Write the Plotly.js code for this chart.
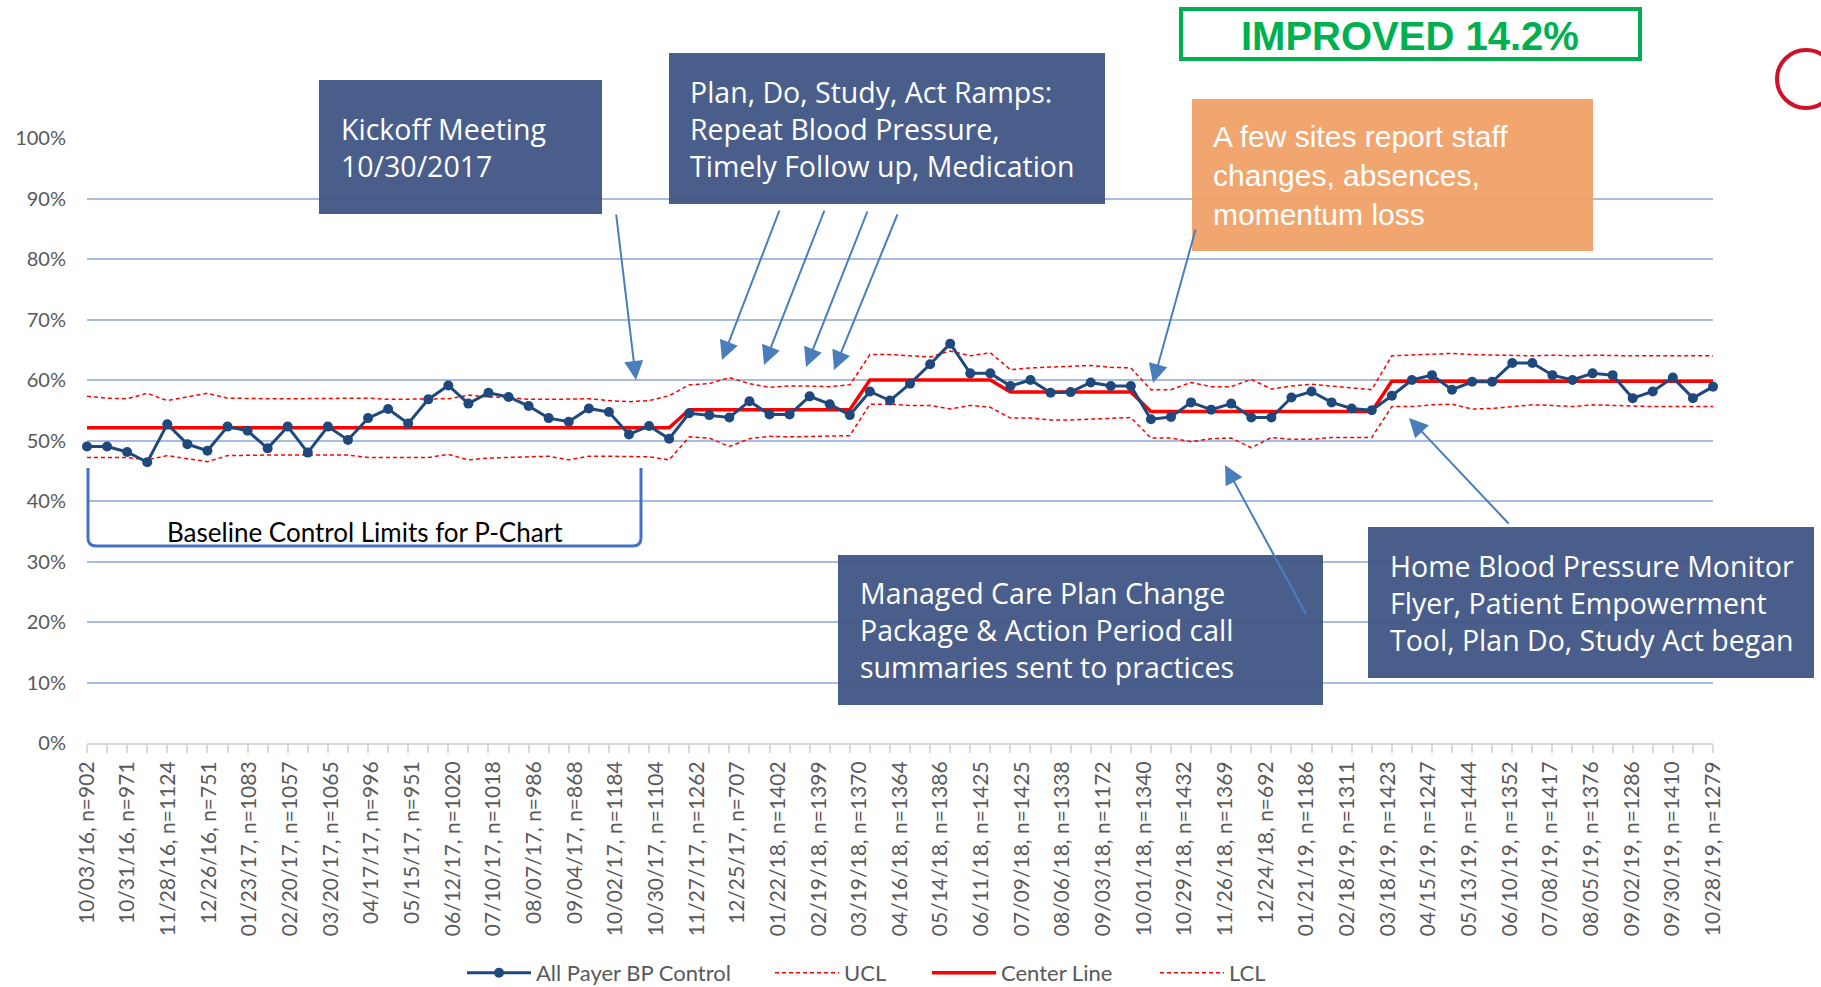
<!DOCTYPE html>
<html><head><meta charset="utf-8">
<script src="https://cdn.plot.ly/plotly-3.0.1.min.js"></script>
<style>html,body{margin:0;padding:0;background:#fff;}#chart{width:1821px;height:987px;}</style>
</head><body><div id="chart"></div>
<script>
// ---- data (percent) ----
const bpControl = [49.0,49.0,48.1,46.4,52.7,49.4,48.3,52.3,51.6,48.7,52.3,48.0,52.3,50.1,53.7,55.2,52.8,56.8,59.1,56.1,
57.9,57.2,55.7,53.7,53.1,55.3,54.7,51.0,52.4,50.3,54.5,54.2,53.8,56.5,54.3,54.3,57.3,56.0,54.2,58.1,
56.6,59.4,62.6,66.0,61.1,61.1,59.0,60.0,57.9,58.0,59.6,59.0,59.0,53.5,53.9,56.3,55.1,56.1,53.8,53.8,
57.1,58.1,56.3,55.3,55.0,57.4,60.0,60.8,58.4,59.7,59.7,62.8,62.8,60.8,60.0,61.1,60.8,57.0,58.1,60.4,
57.0,58.9];
const ucl = [57.3,57.0,56.9,57.8,56.6,57.2,57.8,57.0,56.9,56.9,56.9,56.9,56.9,56.9,57.0,56.8,56.8,56.9,56.9,57.5,
57.2,57.1,56.8,56.8,56.8,56.9,56.6,56.4,56.6,57.4,59.2,59.4,60.4,59.4,58.8,59.0,59.0,58.9,59.2,64.2,
64.2,64.0,63.8,64.8,64.0,64.5,61.7,62.0,62.1,62.2,62.4,62.1,62.0,58.4,58.4,59.6,58.9,58.9,60.1,58.5,
59.0,59.3,59.0,58.7,58.4,64.0,64.1,64.2,64.4,64.2,64.1,64.0,64.0,64.1,64.0,64.1,64.0,64.0,64.0,64.0,
64.0,64.0];
const centerLine = [52.1,52.1,52.1,52.1,52.1,52.1,52.1,52.1,52.1,52.1,52.1,52.1,52.1,52.1,52.1,52.1,52.1,52.1,52.1,52.1,
52.1,52.1,52.1,52.1,52.1,52.1,52.1,52.1,52.1,52.1,55.1,55.1,55.1,55.1,55.1,55.1,55.1,55.1,55.1,60.0,
60.0,60.0,60.0,60.0,60.0,60.0,58.0,58.0,58.0,58.0,58.0,58.0,58.0,54.8,54.8,54.8,54.8,54.8,54.8,54.8,
54.8,54.8,54.8,54.8,54.8,59.8,59.8,59.8,59.8,59.8,59.8,59.8,59.8,59.8,59.8,59.8,59.8,59.8,59.8,59.8,
59.8,59.8];
const lcl = [47.2,47.2,47.2,46.8,47.5,47.0,46.5,47.5,47.6,47.6,47.6,47.6,47.6,47.6,47.2,47.2,47.2,47.2,47.7,46.8,
47.1,47.2,47.4,47.4,46.8,47.4,47.4,47.3,47.3,46.8,50.6,50.4,49.0,50.3,50.7,50.6,50.7,50.8,50.8,56.0,
56.0,55.8,55.8,55.2,55.8,55.5,53.7,53.7,53.4,53.4,53.5,53.7,53.8,50.4,50.4,49.8,50.3,50.4,48.8,50.5,
50.2,50.2,50.5,50.5,50.5,55.6,55.6,55.9,56.0,55.2,55.3,55.6,55.9,55.8,55.6,55.9,55.8,55.6,55.6,55.6,
55.6,55.6];
const tickLabels = ["10/03/16, n=902","10/31/16, n=971","11/28/16, n=1124","12/26/16, n=751","01/23/17, n=1083",
"02/20/17, n=1057","03/20/17, n=1065","04/17/17, n=996","05/15/17, n=951","06/12/17, n=1020","07/10/17, n=1018",
"08/07/17, n=986","09/04/17, n=868","10/02/17, n=1184","10/30/17, n=1104","11/27/17, n=1262","12/25/17, n=707",
"01/22/18, n=1402","02/19/18, n=1399","03/19/18, n=1370","04/16/18, n=1364","05/14/18, n=1386","06/11/18, n=1425",
"07/09/18, n=1425","08/06/18, n=1338","09/03/18, n=1172","10/01/18, n=1340","10/29/18, n=1432","11/26/18, n=1369",
"12/24/18, n=692","01/21/19, n=1186","02/18/19, n=1311","03/18/19, n=1423","04/15/19, n=1247","05/13/19, n=1444",
"06/10/19, n=1352","07/08/19, n=1417","08/05/19, n=1376","09/02/19, n=1286","09/30/19, n=1410","10/28/19, n=1279"];
const yTicks = [0,10,20,30,40,50,60,70,80,90,100];
const yTickLabels = ['0%','10%','20%','30%','40%','50%','60%','70%','80%','90%','100%'];

// ---- layout helpers ----
const W=1821,H=987,L=87,R=1713,T=138,B=743;
const N = bpControl.length;
const xIdx = bpControl.map((v,i)=>i);
const tickVals = tickLabels.map((t,k)=>k*(N-1)/(tickLabels.length-1));
const px = x => (x-L)/(R-L);
const py = y => (B-y)/(B-T);

const navy='#1f497d', red='#ff0000';
const traces = [
 {x:xIdx,y:ucl,name:'UCL',mode:'lines',line:{color:red,width:1.5,dash:'4px,3px'},legend:'legend2',hoverinfo:'skip',cliponaxis:false},
 {x:xIdx,y:lcl,name:'LCL',mode:'lines',line:{color:red,width:1.5,dash:'4px,3px'},legend:'legend4',hoverinfo:'skip',cliponaxis:false},
 {x:xIdx,y:centerLine,name:'Center Line',mode:'lines',line:{color:red,width:3.5},legend:'legend3',cliponaxis:false},
 {x:xIdx,y:bpControl,name:'All Payer BP Control',mode:'lines+markers',line:{color:navy,width:3},marker:{color:navy,size:10},legend:'legend',cliponaxis:false}
];

const boxFont = {family:'Open Sans, Liberation Sans, Arial, sans-serif',size:28.5,color:'#ffffff'};
const narrowFont = 'Liberation Sans Narrow, Arial Narrow, Liberation Sans, sans-serif';
const darkBox = '#3f5484';
const boxes = [
 {x0:319,y0:80,x1:602,y1:214,fill:darkBox,tx:339,text:'Kickoff Meeting<br>10/30/2017',font:boxFont},
 {x0:669,y0:53,x1:1105,y1:204,fill:darkBox,tx:688,text:'Plan, Do, Study, Act Ramps:<br>Repeat Blood Pressure,<br>Timely Follow up, Medication',font:boxFont},
 {x0:1192,y0:99,x1:1593,y1:251,fill:'#f0a066',tx:1211,text:'A few sites report staff<br>changes, absences,<br>momentum loss',font:{family:narrowFont,size:30,color:'#ffffff'}},
 {x0:838,y0:555,x1:1323,y1:705,fill:darkBox,tx:858,text:'Managed Care Plan Change<br>Package &amp; Action Period call<br>summaries sent to practices',font:boxFont},
 {x0:1368,y0:527,x1:1814,y1:678,fill:darkBox,tx:1388,text:'Home Blood Pressure Monitor<br>Flyer, Patient Empowerment<br>Tool, Plan Do, Study Act began',font:boxFont}
];
const arrows = [
 [616,213,636,380],[780,209,722,360],[825,209,764,365],[868,210,806,367],[898,213,834,370],
 [1196,228,1153,383],[1307,616,1225,465],[1510,525,1409,418]
];

const shapes = [];
const annotations = [];
boxes.forEach(b=>{
  shapes.push({type:'rect',xref:'paper',yref:'paper',x0:px(b.x0),x1:px(b.x1),y0:py(b.y1),y1:py(b.y0),
    fillcolor:b.fill,opacity:0.94,line:{width:0},layer:'above'});
  annotations.push({xref:'paper',yref:'paper',x:px(b.tx),y:py((b.y0+b.y1)/2),xanchor:'left',yanchor:'middle',
    align:'left',text:b.text,showarrow:false,font:b.font});
});
// IMPROVED box
shapes.push({type:'rect',xref:'paper',yref:'paper',x0:px(1181),x1:px(1640),y0:py(59),y1:py(9),
  fillcolor:'#ffffff',line:{color:'#00b050',width:4},layer:'above'});
annotations.push({xref:'paper',yref:'paper',x:px(1410),y:py(36),xanchor:'center',yanchor:'middle',
  text:'<b>IMPROVED 14.2%</b>',showarrow:false,font:{family:narrowFont,size:40,color:'#00b050'}});
// partial red circle
shapes.push({type:'circle',xref:'paper',yref:'paper',x0:px(1777),x1:px(1835),y0:py(108),y1:py(50),
  line:{color:'#d0112b',width:4},fillcolor:'rgba(0,0,0,0)',layer:'above'});
// baseline bracket
const bp = (x,y)=>px(x).toFixed(5)+','+py(y).toFixed(5);
shapes.push({type:'path',xref:'paper',yref:'paper',layer:'above',line:{color:'#4472c4',width:3},
  path:'M'+bp(88,468)+' L'+bp(88,538)+' Q'+bp(88,546)+' '+bp(96,546)+' L'+bp(633,546)+' Q'+bp(641,546)+' '+bp(641,538)+' L'+bp(641,468)});
annotations.push({xref:'paper',yref:'paper',x:px(365),y:py(532),xanchor:'center',yanchor:'middle',
  text:'Baseline Control Limits for P-Chart',showarrow:false,font:{family:'Lato, sans-serif',size:26,color:'#000000'}});
arrows.forEach(a=>{
  annotations.push({xref:'paper',yref:'paper',x:px(a[2]),y:py(a[3]),ax:a[0]-a[2],ay:a[1]-a[3],axref:'pixel',ayref:'pixel',
    text:'',showarrow:true,arrowhead:2,arrowsize:1.9,arrowwidth:2,arrowcolor:'#4a7ebb',standoff:0,startstandoff:0});
});

const legFont = {family:'Lato, sans-serif',size:22,color:'#595959'};
const mkLegend = (xPix)=>({orientation:'h',x:px(xPix),xanchor:'left',y:py(973),yanchor:'middle',itemwidth:64,
  font:legFont,bgcolor:'rgba(0,0,0,0)',borderwidth:0});

const layout = {
  width:W,height:H,autosize:false,
  margin:{l:L,r:W-R,t:T,b:H-B,pad:0,autoexpand:false},
  paper_bgcolor:'#ffffff',plot_bgcolor:'#ffffff',
  font:{family:'Lato, sans-serif',color:'#595959'},
  xaxis:{type:'linear',range:[0,N-1],automargin:false,showgrid:false,zeroline:false,showline:true,linecolor:'#d9d9d9',linewidth:2,
    tickmode:'array',tickvals:tickVals,ticktext:tickLabels,tickangle:-90,ticks:'',ticklabelstandoff:8,
    tickfont:{family:'Lato, sans-serif',size:21,color:'#595959'},
    minor:{tickmode:'linear',tick0:0,dtick:1,ticks:'outside',ticklen:8,tickcolor:'#d9d9d9',tickwidth:2,showgrid:false}},
  xaxis2:{overlaying:'x',anchor:'y',range:[0,N-1],automargin:false,showgrid:false,zeroline:false,showline:false,showticklabels:false,
    tickmode:'linear',tick0:0,dtick:1,ticks:'inside',ticklen:7,tickcolor:'#d9d9d9',tickwidth:2},
  yaxis:{range:[0,100],automargin:false,tickmode:'array',tickvals:yTicks,ticktext:yTickLabels,showgrid:true,gridcolor:'#a6bddf',gridwidth:2,
    zeroline:false,showline:false,ticks:'',ticklabelstandoff:20,tickfont:{family:'Lato, sans-serif',size:20,color:'#595959'}},
  showlegend:true,
  legend:mkLegend(462),legend2:mkLegend(770),legend3:mkLegend(927),legend4:mkLegend(1155),
  shapes:shapes,annotations:annotations
};
Plotly.newPlot('chart',traces,layout,{staticPlot:true,displayModeBar:false});
</script></body></html>
